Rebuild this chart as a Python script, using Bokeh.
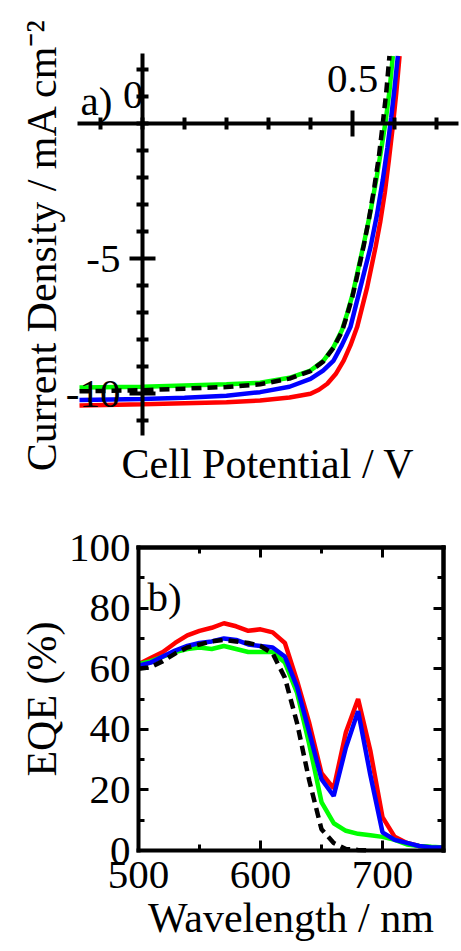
from bokeh.plotting import figure
from bokeh.models import LinearAxis, FixedTicker, Range1d, Label
from bokeh.embed import file_html
from bokeh.resources import INLINE

# ---------------- data: J-V curves (panel a) ----------------
v_red = [-0.15, 0.0, 0.1, 0.2, 0.28, 0.35, 0.40, 0.42, 0.44, 0.46, 0.479, 0.495, 0.511, 0.535, 0.555,
         0.566, 0.577, 0.587, 0.596, 0.604, 0.612]
j_red = [-10.44, -10.40, -10.36, -10.32, -10.26, -10.15, -10.01, -9.86, -9.64, -9.28, -8.78, -8.22, -7.54,
         -6.06, -4.57, -3.65, -2.55, -1.3, -0.1, 1.1, 2.5]

v_blue = [-0.15, 0.0, 0.1, 0.2, 0.28, 0.35, 0.40, 0.43, 0.455, 0.475, 0.495, 0.519, 0.543, 0.558,
          0.572, 0.583, 0.592, 0.600, 0.608]
j_blue = [-10.24, -10.20, -10.16, -10.08, -9.95, -9.75, -9.46, -9.15, -8.78, -8.2, -7.54, -6.06, -4.57,
          -3.4, -2.1, -0.9, 0.2, 1.3, 2.5]

v_green = [-0.15, 0.0, 0.1, 0.2, 0.28, 0.35, 0.40, 0.43, 0.455, 0.475, 0.487, 0.50, 0.511, 0.527,
           0.543, 0.558, 0.570, 0.579, 0.588, 0.596]
j_green = [-9.78, -9.75, -9.70, -9.66, -9.60, -9.42, -9.15, -8.80, -8.28, -7.65, -7.05, -6.35, -5.57,
           -4.45, -3.25, -1.95, -0.8, 0.1, 1.2, 2.5]

v_black = [-0.15, 0.0, 0.1, 0.2, 0.28, 0.35, 0.40, 0.43, 0.455, 0.475, 0.487, 0.50, 0.511, 0.527,
           0.539, 0.552, 0.563, 0.571, 0.580, 0.588]
j_black = [-9.92, -9.88, -9.82, -9.76, -9.66, -9.45, -9.17, -8.82, -8.30, -7.70, -7.10, -6.40, -5.65,
           -4.5, -3.55, -2.35, -1.2, -0.15, 1.1, 2.5]

v_bounds = (-0.155, 0.752)
j_bounds = (-11.556, 2.593)
x_major_a = [0.5]
x_minor_a = [-0.1, 0.0, 0.1, 0.2, 0.3, 0.4, 0.6, 0.7]
y_major_a = [-10, -5]
y_minor_a = [-11, -9, -8, -7, -6, -4, -3, -2, -1, 0, 1, 2]
y_labels_a = {-10: "-10", -5: "-5"}

# ---------------- data: EQE spectra (panel b) ----------------
wl = [500, 510, 520, 530, 540, 550, 560, 570, 580, 590, 600, 610, 620, 630, 640, 650,
      660, 670, 680, 690, 700, 710, 720, 730, 740, 750]
eqe_red = [61.5, 63.5, 65.5, 68.5, 71, 72.5, 73.5, 75, 74, 72.5, 73, 72, 68.5, 56, 42, 25.5,
           20.5, 39, 50, 33, 11, 4.5, 2.5, 1.5, 1, 1]
eqe_blue = [61, 62, 64, 66, 67.5, 68.5, 69, 70, 69.5, 68, 67.5, 67, 64, 54, 39, 23.5,
            18, 34, 46, 25, 6, 3.5, 2.5, 1.5, 1, 1]
eqe_green = [61.5, 62.5, 64, 65.5, 66.5, 67, 66.5, 67.5, 66.5, 65.5, 65.5, 65.5, 62, 52, 35, 16,
             9, 6.5, 5.5, 5, 4.5, 3.5, 2, 1.5, 1.2, 1]
wl_black = [500, 510, 520, 530, 540, 550, 560, 570, 580, 590, 600, 610, 620, 630, 640, 650,
            660, 670, 680, 690]
eqe_black = [60, 60.5, 62.5, 65, 67, 68, 69, 69.5, 69, 68.5, 67.5, 65, 57, 42, 23, 7,
             2.5, 0.5, 0.2, 0]

wl_bounds = (500, 750)
eqe_bounds = (0, 100)
x_major_b = [500, 600, 700]
x_minor_b = [550, 650, 750]
y_major_b = [0, 20, 40, 60, 80, 100]
y_minor_b = [10, 30, 50, 70, 90]

FONT = "Liberation Serif"
TICK_FS = "41px"
TITLE_FS = "42px"
INK = "black"
RED, BLUE, GREEN, BLACK = "#ff0000", "#0000ff", "#00ff00", "#000000"
LW = 4.5

TEXT = dict(major_label_text_font=FONT, major_label_text_font_size=TICK_FS,
            major_label_text_color=INK, axis_label_text_font=FONT,
            axis_label_text_font_size=TITLE_FS, axis_label_text_font_style="normal",
            axis_label_text_color=INK)

# One canvas holds both panels; panel a uses the default ranges, panel b the extra ones.
# Panel a: V=0 at x=142 px, 420 px per V; J=0 at y=123 px, 27 px per mA cm^-2.
# Panel b: 500 nm at x=138 px, 1.22 px per nm; 0 % at y=850 px, 3.03 px per %.
W, H = 461, 951
p = figure(width=W, height=H,
           x_range=Range1d(-142 / 420, (W - 142) / 420),
           y_range=Range1d(-(H - 123) / 27, 123 / 27),
           x_axis_type=None, y_axis_type=None,
           toolbar_location=None, output_backend="svg",
           min_border=0)
p.extra_x_ranges = {"xb": Range1d(500 - 138 / 1.22, 500 + (W - 138) / 1.22)}
p.extra_y_ranges = {"yb": Range1d(-(H - 850) / 3.03, 850 / 3.03)}
p.outline_line_color = None
p.background_fill_color = "white"
p.border_fill_color = "white"

# ---------- panel a axes (crossing at the origin) ----------
CROSS = dict(axis_line_width=4, axis_line_color=INK, major_tick_line_width=4, minor_tick_line_width=4,
             major_tick_line_color=INK, minor_tick_line_color=INK,
             major_tick_in=13, major_tick_out=13, minor_tick_in=6, minor_tick_out=6)

p.add_layout(LinearAxis(fixed_location=0, bounds=v_bounds,
                        ticker=FixedTicker(ticks=x_major_a, minor_ticks=x_minor_a),
                        major_label_standoff=19, **CROSS, **TEXT), "above")
p.add_layout(LinearAxis(fixed_location=0, bounds=j_bounds,
                        ticker=FixedTicker(ticks=y_major_a, minor_ticks=y_minor_a),
                        major_label_overrides=y_labels_a,
                        major_label_standoff=9, **CROSS, **TEXT), "left")

NOTICK = dict(ticker=FixedTicker(ticks=[]), axis_line_color=None, major_tick_out=0,
              minor_tick_out=0, major_tick_in=0, minor_tick_in=0, major_label_standoff=0)

p.add_layout(LinearAxis(fixed_location=j_bounds[0], bounds=v_bounds,
                        axis_label="Cell Potential / V", axis_label_standoff=5,
                        **NOTICK, **TEXT), "below")
p.add_layout(LinearAxis(fixed_location=v_bounds[0], bounds=j_bounds,
                        axis_label="Current Density / mA cm\u207b\u00b2", axis_label_standoff=13,
                        **NOTICK, **TEXT), "left")

p.line(v_red, j_red, line_color=RED, line_width=LW)
p.line(v_green, j_green, line_color=GREEN, line_width=LW)
p.line(v_blue, j_blue, line_color=BLUE, line_width=LW)
p.line(v_black, j_black, line_color=BLACK, line_width=LW, line_dash="10 6")

p.add_layout(Label(x=0, y=1.04, text="0", text_align="right", text_baseline="alphabetic",
                   text_font=FONT, text_font_size=TICK_FS, text_color=INK, x_offset=1))
p.add_layout(Label(x=-0.1476, y=0.85, text="a)", text_align="left", text_baseline="alphabetic",
                   text_font=FONT, text_font_size=TICK_FS, text_color=INK))

# ---------- panel b axes (closed box) ----------
RB = dict(x_range_name="xb", y_range_name="yb")
TICKS = dict(axis_line_width=4, axis_line_color=INK, axis_line_cap="square",
             major_tick_line_width=3, minor_tick_line_width=3,
             major_tick_line_color=INK, minor_tick_line_color=INK,
             major_tick_in=10, major_tick_out=0, minor_tick_in=6, minor_tick_out=0)

p.add_layout(LinearAxis(fixed_location=eqe_bounds[0], bounds=wl_bounds,
                        ticker=FixedTicker(ticks=x_major_b, minor_ticks=x_minor_b),
                        major_label_standoff=11, axis_label="Wavelength / nm",
                        axis_label_standoff=4, **TICKS, **TEXT, **RB), "below")
p.add_layout(LinearAxis(fixed_location=wl_bounds[0], bounds=eqe_bounds,
                        ticker=FixedTicker(ticks=y_major_b, minor_ticks=y_minor_b),
                        major_label_standoff=8, axis_label="EQE (%)",
                        axis_label_standoff=1, **TICKS, **TEXT, **RB), "left")

# mirror ticks (no labels) on top and right
for side, loc, bnd, major, minor in (("above", eqe_bounds[1], wl_bounds, x_major_b, x_minor_b),
                                     ("right", wl_bounds[1], eqe_bounds, y_major_b, y_minor_b)):
    for pos, ln in ((major, 10), (minor, 6)):
        p.add_layout(LinearAxis(fixed_location=loc, bounds=bnd,
                                ticker=FixedTicker(ticks=[], minor_ticks=pos),
                                axis_line_width=4, axis_line_color=INK, axis_line_cap="square",
                                minor_tick_line_width=3, minor_tick_line_color=INK,
                                major_tick_in=0, major_tick_out=0, major_label_standoff=0,
                                minor_tick_in=ln, minor_tick_out=0, **RB), side)

p.line(wl, eqe_red, line_color=RED, line_width=LW, **RB)
p.line(wl, eqe_green, line_color=GREEN, line_width=LW, **RB)
p.line(wl, eqe_blue, line_color=BLUE, line_width=LW, **RB)
p.line(wl_black, eqe_black, line_color=BLACK, line_width=LW, line_dash="10 6", **RB)

p.add_layout(Label(x=507.4, y=83.5, text="b)", text_align="left", text_baseline="alphabetic",
                   text_font=FONT, text_font_size=TICK_FS, text_color=INK, **RB))

open("out.html", "w").write(file_html(p, INLINE))
